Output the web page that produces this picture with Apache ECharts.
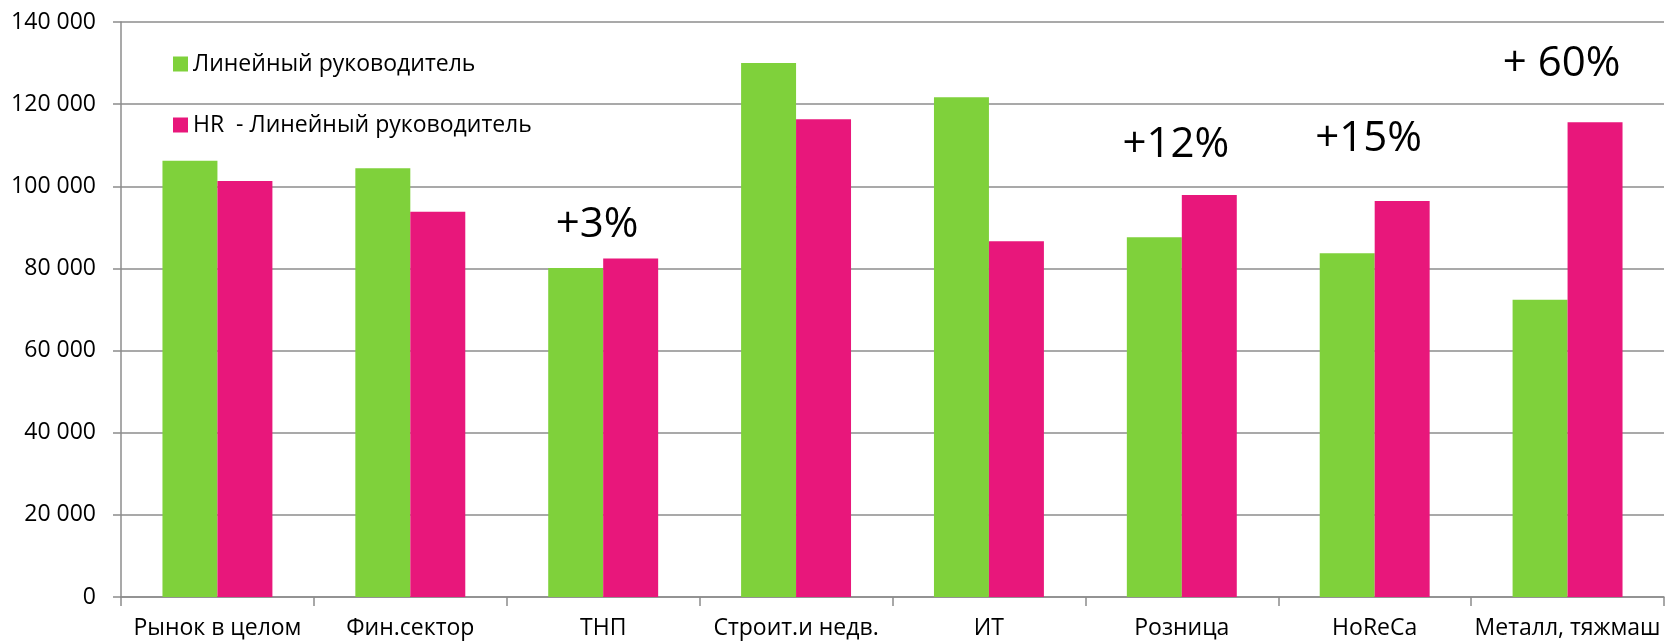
<!DOCTYPE html>
<html>
<head>
<meta charset="utf-8">
<script src="https://cdn.jsdelivr.net/npm/echarts@6/dist/echarts.min.js"></script>
<style>
html,body{margin:0;padding:0;background:#fff;}
#chart{width:1665px;height:644px;}
</style>
</head>
<body>
<div id="chart"></div>
<script>
const categories = ['Рынок в целом','Фин.сектор','ТНП','Строит.и недв.','ИТ','Розница','HoReCa','Металл, тяжмаш'];
const seriesNames = ['Линейный руководитель','HR  - Линейный руководитель'];
const lineManager = [106200, 104400, 80100, 130000, 121700, 87600, 83700, 72400];
const hrLineManager = [101300, 93800, 82400, 116300, 86600, 97900, 96400, 115600];
const yTicks = [0, 20000, 40000, 60000, 80000, 100000, 120000, 140000];
const annotationText = ['+3%', '+12%', '+15%', '+ 60%'];
const annotationCategory = ['ТНП', 'Розница', 'HoReCa', 'Металл, тяжмаш'];
const annotationValue = [90500, 110000, 111500, 129700];

const FONT = '"Open Sans", "Noto Sans", sans-serif';
const chart = echarts.init(document.getElementById('chart'));

const annotationData = annotationText.map((t, i) => [annotationCategory[i], annotationValue[i], t]);

chart.setOption({
  animation: false,
  textStyle: { fontFamily: FONT },
  grid: { left: 121, right: 1, top: 22, bottom: 47, containLabel: false },
  legend: {
    orient: 'vertical',
    left: 173,
    top: 52,
    padding: 0,
    itemGap: 37,
    icon: 'rect',
    itemWidth: 15,
    itemHeight: 15,
    textStyle: { fontSize: 23, lineHeight: 24, color: '#000', fontFamily: FONT },
    data: seriesNames
  },
  xAxis: {
    type: 'category',
    data: categories,
    boundaryGap: true,
    axisLine: { lineStyle: { color: '#8c8c8c', width: 1.5 } },
    axisTick: { show: true, length: 9, lineStyle: { color: '#8c8c8c', width: 1.5 } },
    axisLabel: { fontSize: 23, color: '#000', margin: 20, fontFamily: FONT, interval: 0 }
  },
  yAxis: {
    type: 'value',
    min: yTicks[0],
    max: yTicks[yTicks.length - 1],
    interval: yTicks[1] - yTicks[0],
    axisLine: { show: true, lineStyle: { color: '#8c8c8c', width: 1.5 } },
    axisTick: { show: true, length: 8, lineStyle: { color: '#8c8c8c', width: 1.5 } },
    splitLine: { lineStyle: { color: '#8c8c8c', width: 1.5 } },
    axisLabel: {
      fontSize: 23, color: '#000', margin: 25, fontFamily: FONT,
      formatter: v => String(v).replace(/\B(?=(\d{3})+(?!\d))/g, ' ')
    }
  },
  series: [
    {
      name: seriesNames[0],
      type: 'bar',
      data: lineManager,
      itemStyle: { color: '#7FD13B' },
      barGap: '0%',
      barCategoryGap: '43%'
    },
    {
      name: seriesNames[1],
      type: 'bar',
      data: hrLineManager,
      itemStyle: { color: '#E8177B' },
      barGap: '0%',
      barCategoryGap: '43%'
    },
    {
      name: 'annotations',
      type: 'scatter',
      data: annotationData,
      symbolSize: 0,
      silent: true,
      z: 5,
      itemStyle: { opacity: 1 },
      label: {
        show: true,
        position: 'inside',
        offset: [-6, 0],
        fontSize: 42,
        color: '#000',
        opacity: 1,
        fontFamily: FONT,
        formatter: p => p.value[2]
      }
    }
  ]
});
</script>
</body>
</html>
